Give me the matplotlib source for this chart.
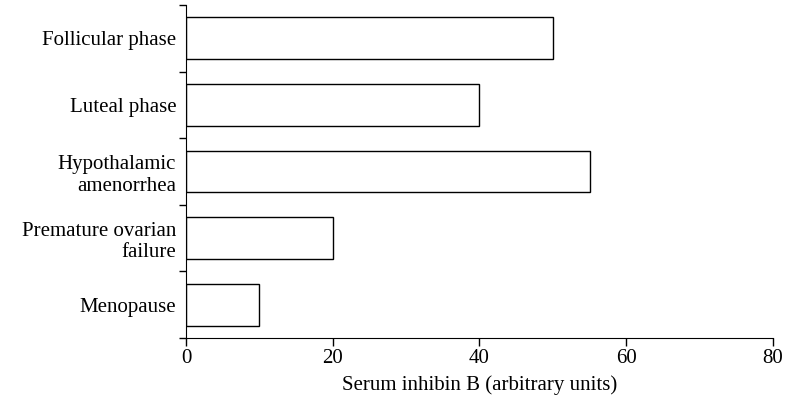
import matplotlib
matplotlib.use('Agg')
import matplotlib.pyplot as plt
import numpy as np

categories = ['Follicular phase', 'Luteal phase', 'Hypothalamic\namenorrhea',
              'Premature ovarian\nfailure', 'Menopause']
values = [50, 40, 55, 20, 10]
x_ticks = [0, 20, 40, 60, 80]

plt.rcParams['font.family'] = ['Liberation Serif', 'DejaVu Serif']
fs = 15

fig = plt.figure(figsize=(7.88, 4.0), dpi=100)
ax = fig.add_axes([0.236, 0.155, 0.745, 0.8325])

pos = np.arange(len(categories))[::-1]
ax.barh(pos, values, height=0.63, color='white', edgecolor='black', linewidth=1.0)

ax.set_xlim(0, 80)
ax.set_ylim(-0.5, len(categories) - 0.5)
ax.set_xticks(x_ticks)
ax.set_xticklabels([str(t) for t in x_ticks], fontsize=fs)

# boundary ticks without labels, labels at bar centres
ax.set_yticks(np.arange(-0.5, len(categories), 1.0))
ax.set_yticklabels([])
ax.set_yticks(pos, minor=True)
ax.set_yticklabels(categories, minor=True, fontsize=fs, multialignment='right',
                   linespacing=1.2)
ax.tick_params(axis='y', which='minor', length=0, pad=7)
ax.tick_params(axis='y', which='major', length=5, width=1)
ax.tick_params(axis='x', length=6, width=1, pad=2)

ax.spines['top'].set_visible(False)
ax.spines['right'].set_visible(False)
ax.set_xlabel('Serum inhibin B (arbitrary units)', fontsize=fs, labelpad=5)

fig.savefig('out.png', dpi=100)
